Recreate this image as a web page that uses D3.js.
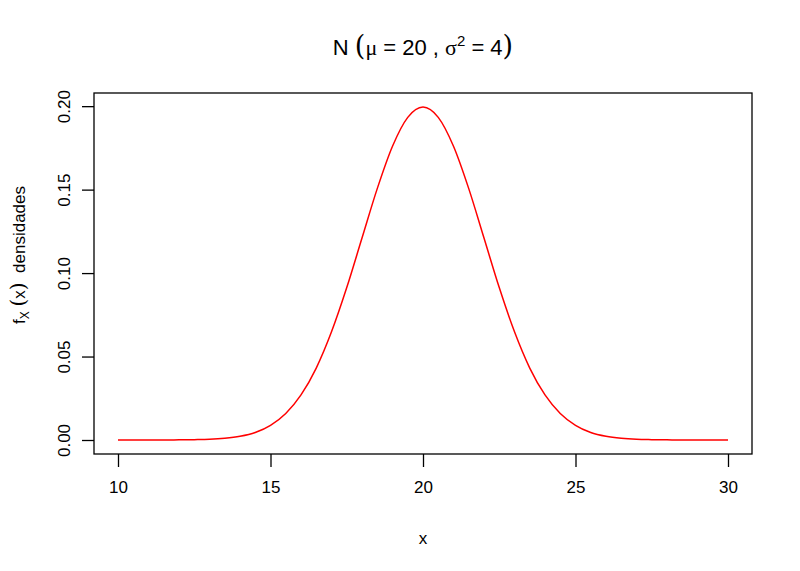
<!DOCTYPE html>
<html>
<head>
<meta charset="utf-8">
<script src="https://cdn.jsdelivr.net/npm/d3@7"></script>
<style>
  body { margin: 0; background: #fff; }
  svg text { font-family: "Liberation Sans", Arial, sans-serif; fill: #000; }
</style>
</head>
<body>
<svg id="chart" width="800" height="571"></svg>
<script>
// density values, x from 10 to 30 in steps of 0.5
const xs = d3.range(10, 30.001, 0.5)
const dens = [
  0.0000, 0.0000, 0.0000, 0.0000, 0.0001, 0.0002, 0.0004, 0.0010, 0.0022,
  0.0045, 0.0088, 0.0159, 0.0270, 0.0431, 0.0648, 0.0913, 0.1210, 0.1506,
  0.1760, 0.1933, 0.1995, 0.1933, 0.1760, 0.1506, 0.1210, 0.0913, 0.0648,
  0.0431, 0.0270, 0.0159, 0.0088, 0.0045, 0.0022, 0.0010, 0.0004, 0.0002,
  0.0001, 0.0000, 0.0000, 0.0000, 0.0000
]
const xTicks = [10, 15, 20, 25, 30]
const yTicks = [0, 0.05, 0.10, 0.15, 0.20]

const box = {left: 94, right: 752, top: 93, bottom: 454}
const svg = d3.select('#chart')

const x = d3.scaleLinear().domain([10, 30]).range([118, 728])
const y = d3.scaleLinear().domain([0, 0.1995]).range([440, 107])

const data = xs.map((v, i) => ({x: v, y: dens[i]}))

// curve
svg.append('path')
    .datum(data)
    .attr('fill', 'none')
    .attr('stroke', '#ff0000')
    .attr('stroke-width', 1.5)
    .attr('d', d3.line().x(d => x(d.x)).y(d => y(d.y)).curve(d3.curveMonotoneX))

// plot box
svg.append('rect')
    .attr('x', box.left).attr('y', box.top)
    .attr('width', box.right - box.left).attr('height', box.bottom - box.top)
    .attr('fill', 'none').attr('stroke', '#000').attr('stroke-width', 1.3)

// x axis
const xAxis = svg.append('g')
    .attr('transform', `translate(0, ${box.bottom})`)
    .call(d3.axisBottom(x).tickValues(xTicks).tickSize(13).tickPadding(14).tickFormat(d3.format('d')))
xAxis.select('.domain').remove()
xAxis.selectAll('line').attr('stroke-width', 1.3)
xAxis.selectAll('text').attr('font-size', 17)

// y axis
const yAxis = svg.append('g')
    .attr('transform', `translate(${box.left}, 0)`)
    .call(d3.axisLeft(y).tickValues(yTicks).tickSize(12).tickFormat(d3.format('.2f')))
yAxis.select('.domain').remove()
yAxis.selectAll('line').attr('stroke-width', 1.3)
yAxis.selectAll('text')
    .attr('font-size', 17)
    .attr('x', null).attr('dy', null)
    .attr('text-anchor', 'middle')
    .attr('transform', 'translate(-24, 0) rotate(-90)')

// title
const title = svg.append('text')
    .attr('x', 423).attr('y', 55)
    .attr('text-anchor', 'middle')
    .attr('font-size', 22)
    .attr('xml:space', 'preserve')
title.append('tspan').text('N ')
title.append('tspan').attr('font-size', 27).attr('font-family', '"DejaVu Serif", serif').attr('font-weight', 300).text('(')
title.append('tspan').attr('font-family', '"Liberation Serif", serif').text('\u03bc')
title.append('tspan').text(' = 20 , ')
title.append('tspan').attr('font-family', '"Liberation Serif", serif').text('\u03c3')
title.append('tspan').attr('font-size', 15).attr('dy', -9).text('2')
title.append('tspan').attr('dy', 9).text(' = 4')
title.append('tspan').attr('font-size', 27).attr('font-family', '"DejaVu Serif", serif').attr('font-weight', 300).text(')')

// x label
svg.append('text')
    .attr('x', 423).attr('y', 544)
    .attr('text-anchor', 'middle')
    .attr('font-size', 17)
    .text('x')

// y label
const ylab = svg.append('text')
    .attr('transform', 'translate(25, 255) rotate(-90)')
    .attr('text-anchor', 'middle')
    .attr('font-size', 17)
    .attr('xml:space', 'preserve')
ylab.append('tspan').text('f')
ylab.append('tspan').attr('font-size', 12).attr('dy', 4).text('X')
ylab.append('tspan').attr('dy', -4).text(' ')
ylab.append('tspan').attr('font-size', 20).attr('font-family', '"DejaVu Serif", serif').attr('font-weight', 300).text('(')
ylab.append('tspan').text('x')
ylab.append('tspan').attr('font-size', 20).attr('font-family', '"DejaVu Serif", serif').attr('font-weight', 300).text(')')
ylab.append('tspan').text('  densidades')
</script>
</body>
</html>
